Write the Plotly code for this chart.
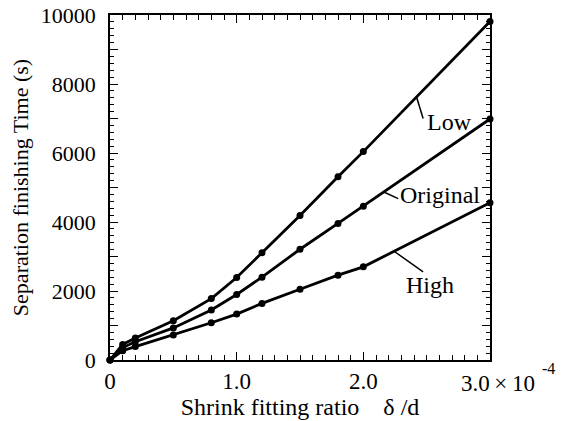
import numpy as np
import plotly.graph_objects as go

# ---- data ----
ratio = [0, 0.1, 0.2, 0.5, 0.8, 1.0, 1.2, 1.5, 1.8, 2.0, 3.0]          # x 1e-4
time_low = [0, 450, 640, 1140, 1780, 2390, 3110, 4190, 5310, 6040, 9810]
time_original = [0, 360, 530, 930, 1450, 1900, 2400, 3210, 3960, 4460, 6985]
time_high = [0, 270, 390, 725, 1080, 1330, 1640, 2050, 2460, 2700, 4560]

x_tickvals = [0, 1, 2, 3]
x_ticktext = ["0", "1.0", "2.0", " "]
y_tickvals = list(range(0, 10001, 1000))
y_ticktext = [str(v) if v % 2000 == 0 else " " for v in y_tickvals]

series = [("Low", time_low), ("Original", time_original), ("High", time_high)]

FONT = "Liberation Serif, Times New Roman, serif"
fig = go.Figure()
for name, vals in series:
    fig.add_trace(go.Scatter(
        x=ratio, y=vals, mode="lines+markers", name=name,
        line=dict(color="black", width=2.8),
        marker=dict(color="black", size=7),
        cliponaxis=False, showlegend=False,
    ))

# label leader lines: (series, x-position on curve, line end offset px, text offset px)
labels = [
    ("Low", time_low, 2.42, (6.6, -21.6), (8.3, -25.3)),
    ("Original", time_original, 2.162, (14.3, -6.6), (14.0, -3.0)),
    ("High", time_high, 2.243, (29.0, -20.7), (9.7, -33.7)),
]
for name, vals, xp, (lx, ly), (tx, ty) in labels:
    yp = float(np.interp(xp, ratio, vals))
    fig.add_shape(type="line", xref="x", yref="y",
                  xsizemode="pixel", ysizemode="pixel",
                  xanchor=xp, yanchor=yp,
                  x0=0, y0=0, x1=lx, y1=ly,
                  line=dict(color="black", width=1.5))
    fig.add_annotation(x=xp, y=yp, xref="x", yref="y", text=name,
                       showarrow=False, xanchor="left", yanchor="middle",
                       xshift=tx, yshift=ty,
                       font=dict(family=FONT, size=24, color="black"))

# exponent label of the x axis
fig.add_annotation(x=3.0, y=0, xref="x", yref="y",
                   text="3.0\u2009×\u200910", showarrow=False,
                   xanchor="left", yanchor="top", xshift=-31, yshift=-9,
                   font=dict(family=FONT, size=23, color="black"))
fig.add_annotation(x=3.0, y=0, xref="x", yref="y",
                   text="-4", showarrow=False,
                   xanchor="left", yanchor="top", xshift=50, yshift=2,
                   font=dict(family=FONT, size=16, color="black"))

axis_common = dict(showline=True, linecolor="black", linewidth=1.5,
                   mirror="ticks", ticks="inside", tickcolor="black",
                   tickwidth=1.2, showgrid=False, zeroline=False,
                   automargin=False)

fig.update_xaxes(range=[0, 3], tickmode="array", tickvals=x_tickvals,
                 ticktext=x_ticktext, ticklen=8,
                 tickfont=dict(family=FONT, size=23, color="black"),
                 minor=dict(dtick=0.1, ticks="inside", ticklen=5,
                            tickcolor="black", tickwidth=1.2, showgrid=False),
                 title=dict(text="Shrink fitting ratio\u00a0\u00a0\u00a0\u00a0δ /d",
                            font=dict(family=FONT, size=24, color="black"),
                            standoff=4),
                 **axis_common)
fig.update_yaxes(range=[0, 10000], tickmode="array", tickvals=y_tickvals,
                 ticktext=y_ticktext, ticklen=8, ticklabelstandoff=8,
                 tickfont=dict(family=FONT, size=22, color="black"),
                 minor=dict(dtick=200, ticks="inside", ticklen=4,
                            tickcolor="black", tickwidth=1.2, showgrid=False),
                 title=dict(text="Separation finishing Time (s)",
                            font=dict(family=FONT, size=22, color="black"),
                            standoff=6),
                 **axis_common)

fig.update_layout(width=566, height=421,
                  margin=dict(l=110, r=76, t=15, b=61),
                  paper_bgcolor="white", plot_bgcolor="white",
                  font=dict(family=FONT, size=22, color="black"))

fig.write_html("out.html")
